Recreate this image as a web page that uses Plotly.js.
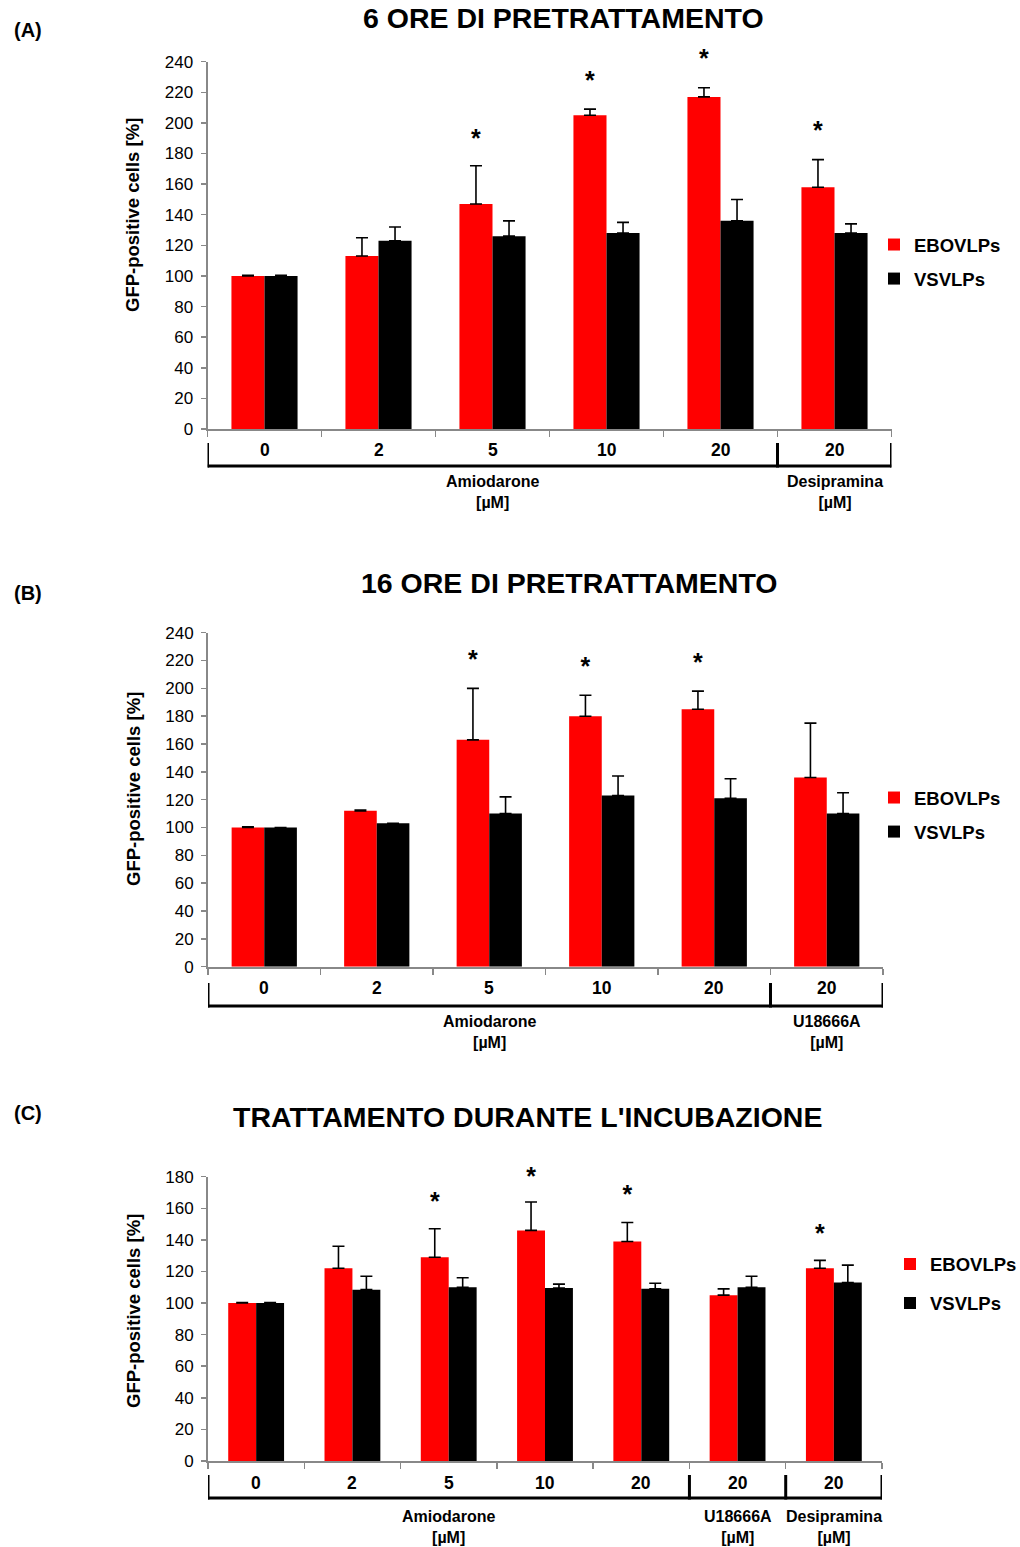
<!DOCTYPE html>
<html><head><meta charset="utf-8">
<script src="https://cdn.plot.ly/plotly-3.0.1.min.js"></script>
<style>body{margin:0;background:#fff}</style>
</head><body><div id="chart" style="width:1020px;height:1547px"></div>
<script>
// ---------------- data ----------------
const seriesNames = ['EBOVLPs', 'VSVLPs'];
const yTitle = 'GFP-positive cells [%]';

const titleA = '6 ORE DI PRETRATTAMENTO';
const catsA = ['0', '2', '5', '10', '20', '20'];
const ebovA = [100, 113, 147, 205, 217, 158];
const ebovErrA = [0.5, 12, 25, 4, 6, 18];
const vsvA = [100, 123, 126, 128, 136, 128];
const vsvErrA = [0.5, 9, 10, 7, 14, 6];
const starsA = [null, null, 193, 231, 245, 198];
const groupNamesA = ['Amiodarone<br>[µM]', 'Desipramina<br>[µM]'];
const groupSpansA = [[0, 4], [5, 5]];

const titleB = '16 ORE DI PRETRATTAMENTO';
const catsB = ['0', '2', '5', '10', '20', '20'];
const ebovB = [100, 112, 163, 180, 185, 136];
const ebovErrB = [0.5, 0.5, 37, 15, 13, 39];
const vsvB = [100, 103, 110, 123, 121, 110];
const vsvErrB = [null, null, 12, 14, 14, 15];
const starsB = [null, null, 224, 219, 222, null];
const groupNamesB = ['Amiodarone<br>[µM]', 'U18666A<br>[µM]'];
const groupSpansB = [[0, 4], [5, 5]];

const titleC = "TRATTAMENTO DURANTE L'INCUBAZIONE";
const catsC = ['0', '2', '5', '10', '20', '20', '20'];
const ebovC = [100, 122, 129, 146, 139, 105, 122];
const ebovErrC = [0.3, 14, 18, 18, 12, 4, 5];
const vsvC = [100, 108.5, 110, 109.5, 109, 110, 113];
const vsvErrC = [0.3, 8.5, 6, 2.5, 3.5, 7, 11];
const starsC = [null, null, 167, 183, 172, null, 147];
const groupNamesC = ['Amiodarone<br>[µM]', 'U18666A<br>[µM]', 'Desipramina<br>[µM]'];
const groupSpansC = [[0, 4], [5, 5], [6, 6]];

const panelLabels = ['(A)', '(B)', '(C)'];

// ---------------- layout helpers ----------------
const W = 1020, H = 1547;
const px = v => v / W;
const py = v => 1 - v / H;
const FONT = 'Liberation Sans, Arial, sans-serif';
const RED = '#ff0000', BLACK = '#000000', GRAY = '#888888';
const BARGAP = 0.42;
const STAR_DROP = 7;   // px: asterisk glyph sits above the text box centre
const STAR_HEAD = 40;  // px of extra head-room for the star axis

const panels = [
  {cats: catsA, e: ebovA, ee: ebovErrA, v: vsvA, ve: vsvErrA, stars: starsA, gN: groupNamesA, gS: groupSpansA,
   title: titleA, label: panelLabels[0], ymax: 240,
   x0: 207.5, x1: 891.5, yTop: 61.7, yBot: 429, titleX: 563, titleY: 18, labY: 30,
   catY: 450, brTop: 443, brY: 466, grpY: 492, legY: 262, legX: 874, ytY: 215, gap: 7},
  {cats: catsB, e: ebovB, ee: ebovErrB, v: vsvB, ve: vsvErrB, stars: starsB, gN: groupNamesB, gS: groupSpansB,
   title: titleB, label: panelLabels[1], ymax: 240,
   x0: 208, x1: 883, yTop: 632.7, yBot: 966.7, titleX: 569, titleY: 583, labY: 593,
   catY: 988, brTop: 983, brY: 1006, grpY: 1032, legY: 815, legX: 874, ytY: 789, gap: 7},
  {cats: catsC, e: ebovC, ee: ebovErrC, v: vsvC, ve: vsvErrC, stars: starsC, gN: groupNamesC, gS: groupSpansC,
   title: titleC, label: panelLabels[2], ymax: 180,
   x0: 208, x1: 882, yTop: 1176.7, yBot: 1461, titleX: 527, titleY: 1117, labY: 1113,
   catY: 1483, brTop: 1475, brY: 1498, grpY: 1527, legY: 1284, legX: 890, ytY: 1311, gap: 12}
];

const data = [];
const layout = {
  width: W, height: H,
  margin: {l: 0, r: 0, t: 0, b: 0, autoexpand: false},
  paper_bgcolor: '#fff', plot_bgcolor: 'rgba(0,0,0,0)',
  barmode: 'group', bargap: BARGAP, bargroupgap: 0,
  showlegend: true,
  font: {family: FONT, color: '#000'},
  annotations: [], shapes: []
};

panels.forEach((p, k) => {
  const sfx = k === 0 ? '' : String(k + 1);
  const xa = 'x' + sfx, ya = 'y' + sfx, leg = 'legend' + sfx;
  const starAxis = 'y' + (k + 4);
  const n = p.cats.length;
  const xs = p.cats.map((c, i) => i);
  const errTrace = arr => ({type: 'data', symmetric: false, array: arr,
    arrayminus: arr.map(() => 0), color: BLACK, thickness: 1.6, width: 6});
  data.push({type: 'bar', name: seriesNames[0], x: xs, y: p.e, xaxis: xa, yaxis: ya,
    marker: {color: RED}, error_y: errTrace(p.ee), legend: leg, legendgroup: 'e' + k, hoverinfo: 'y'});
  data.push({type: 'bar', name: seriesNames[1], x: xs, y: p.v, xaxis: xa, yaxis: ya,
    marker: {color: BLACK}, error_y: errTrace(p.ve), legend: leg, legendgroup: 'v' + k, hoverinfo: 'y'});

  // significance stars (centred over the red bar of each group), on a hidden axis
  // with the same scale as the panel's y axis but extra head-room.
  const off = (1 - BARGAP) / 4;
  const sx = [], sy = [];
  p.stars.forEach((s, i) => { if (s != null) { sx.push(i - off); sy.push(s); } });
  data.push({type: 'scatter', mode: 'text', x: sx, y: sy, text: sx.map(() => '<b>*</b>'),
    textposition: 'middle center', textfont: {family: FONT, size: 25, color: BLACK},
    xaxis: xa, yaxis: starAxis, cliponaxis: false, showlegend: false, hoverinfo: 'skip'});

  const bounds = [];
  for (let i = 0; i <= n; i++) bounds.push(i - 0.5);

  layout['xaxis' + sfx] = {
    domain: [px(p.x0), px(p.x1)], anchor: ya, range: [-0.5, n - 0.5],
    tickvals: bounds, ticktext: bounds.map(() => ''),
    ticks: 'outside', ticklen: 6, tickwidth: 1.5, tickcolor: GRAY,
    showline: true, linecolor: GRAY, linewidth: 2,
    showgrid: false, zeroline: false, fixedrange: true
  };
  layout['yaxis' + sfx] = {
    domain: [py(p.yBot), py(p.yTop)], anchor: xa, range: [0, p.ymax], dtick: 20,
    ticks: 'outside', ticklen: 5, tickwidth: 1.5, tickcolor: GRAY, ticklabelstandoff: 4,
    showline: true, linecolor: GRAY, linewidth: 2,
    tickfont: {family: FONT, size: 17, color: '#000'},
    showgrid: false, zeroline: false, fixedrange: true
  };
  const plotH = p.yBot - p.yTop;
  const starH = plotH + STAR_DROP + STAR_HEAD;
  layout['yaxis' + (k + 4)] = {
    domain: [py(p.yBot + STAR_DROP), py(p.yTop - STAR_HEAD)], anchor: xa,
    range: [0, p.ymax * starH / plotH], visible: false, fixedrange: true
  };
  layout[leg] = {
    x: px(p.legX), y: py(p.legY), xanchor: 'left', yanchor: 'middle',
    font: {family: FONT, size: 18.5, color: '#000', weight: 'bold'},
    traceorder: 'grouped', tracegroupgap: p.gap, itemwidth: 30,
    bgcolor: 'rgba(0,0,0,0)', borderwidth: 0
  };

  // titles and panel label
  layout.annotations.push({xref: 'paper', yref: 'paper', x: px(p.titleX), y: py(p.titleY),
    text: '<b>' + p.title + '</b>', showarrow: false, xanchor: 'center', yanchor: 'middle',
    font: {family: FONT, size: 28.5, color: '#000'}});
  layout.annotations.push({xref: 'paper', yref: 'paper', x: px(12), y: py(p.labY),
    text: '<b>' + p.label + '</b>', showarrow: false, xanchor: 'left', yanchor: 'middle',
    font: {family: FONT, size: 20, color: '#000'}});
  // y title
  layout.annotations.push({xref: 'paper', yref: 'paper', x: px(133), y: py(p.ytY),
    text: '<b>' + yTitle + '</b>', showarrow: false, textangle: -90, xanchor: 'center', yanchor: 'middle',
    font: {family: FONT, size: 18.5, color: '#000'}});
  // category labels
  p.cats.forEach((c, i) => {
    layout.annotations.push({xref: xa, yref: 'paper', x: i, y: py(p.catY),
      text: '<b>' + c + '</b>', showarrow: false, xanchor: 'center', yanchor: 'middle',
      font: {family: FONT, size: 17.5, color: '#000'}});
  });
  // group labels and brackets
  layout.shapes.push({type: 'line', xref: xa, yref: 'paper', x0: -0.5, x1: n - 0.5,
    y0: py(p.brY), y1: py(p.brY), line: {color: BLACK, width: 3}});
  layout.shapes.push({type: 'line', xref: xa, yref: 'paper', x0: -0.5, x1: -0.5,
    y0: py(p.brTop), y1: py(p.brY + 1.5), line: {color: BLACK, width: 3}});
  p.gS.forEach((g, j) => {
    layout.annotations.push({xref: xa, yref: 'paper', x: (g[0] + g[1]) / 2, y: py(p.grpY),
      text: '<b>' + p.gN[j] + '</b>', showarrow: false, xanchor: 'center', yanchor: 'middle',
      font: {family: FONT, size: 16, color: '#000'}});
    layout.shapes.push({type: 'line', xref: xa, yref: 'paper', x0: g[1] + 0.5, x1: g[1] + 0.5,
      y0: py(p.brTop), y1: py(p.brY + 1.5), line: {color: BLACK, width: 3}});
  });
});

Plotly.newPlot('chart', data, layout, {displayModeBar: false, staticPlot: true});
</script>
</body></html>
